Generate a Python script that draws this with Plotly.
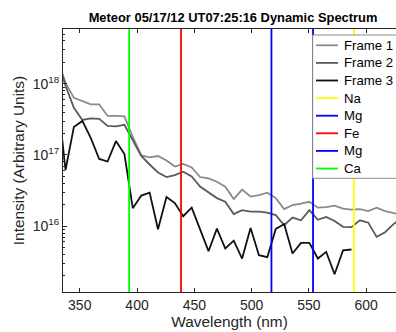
import plotly.graph_objects as go

# ---- data ----
wavelength = [330.3, 337.6, 344.9, 352.3, 359.6, 367.0, 374.3, 381.6, 389.0, 396.3,
              403.7, 411.0, 418.3, 425.7, 433.0, 440.3, 447.7, 455.0, 462.4, 469.7,
              477.0, 484.4, 491.7, 499.1, 506.4, 513.7, 521.1, 528.4, 535.7, 543.1,
              550.4, 557.8, 565.1, 572.4, 579.8, 587.1, 594.5, 601.8, 609.1, 616.5,
              623.8, 631.2]

frame1 = [2.3e18, 1.03e18, 6.35e17, 5.67e17, 5.14e17, 5.14e17, 3.54e17, 3.54e17, 3.49e17, 1.79e17,
          9.84e16, 9.28e16, 9.68e16, 8.37e16, 6.89e16, 7.47e16, 6.67e16, 4.90e16, 4.70e16, 4.21e16,
          3.58e16, 2.40e16, 3.27e16, 2.60e16, 2.73e16, 2.96e16, 2.48e16, 1.74e16, 1.98e16, 2.07e16,
          2.20e16, 1.82e16, 1.85e16, 1.94e16, 1.76e16, 1.71e16, 1.74e16, 1.63e16, 1.82e16, 1.63e16,
          1.52e16, 1.43e16]

frame2 = [2.3e18, 9.37e17, 4.59e17, 3.11e17, 3.27e17, 3.21e17, 2.56e17, 2.52e17, 2.65e17, 1.63e17,
          9.68e16, 7.35e16, 5.67e16, 4.90e16, 5.23e16, 5.82e16, 4.98e16, 3.60e16, 2.96e16, 2.48e16,
          2.21e16, 1.48e16, 1.68e16, 1.60e16, 1.60e16, 1.55e16, 1.43e16, 1.03e16, 1.32e16, 1.21e16,
          1.68e16, 1.23e16, 1.35e16, 1.18e16, 9.8e15, 9.7e15, 1.21e16, 1.12e16, 7.07e15, 8.23e15,
          1.07e16, 1.30e16]

frame3 = [7.47e17, 6.15e16, 2.48e17, 3.01e17, 1.74e17, 8.79e16, 8.10e16, 1.57e17, 1.03e17, 1.79e16,
          2.69e16, 2.96e16, 9.07e15, 2.56e16, 2.11e16, 1.38e16, 1.82e16, 8.93e15, 4.45e15, 9.22e15,
          4.85e15, 6.25e15, 3.51e15, 9.43e15, 3.91e15, 3.66e15, 9.13e15, 1.07e16, 4.13e15, 5.82e15,
          5.82e15, 3.51e15, 4.35e15, 2.11e15, 4.59e15, 4.70e15]

line_names = ["Na", "Mg", "Fe", "Mg", "Ca"]
line_wavelengths = [589.2, 553.6, 438.4, 517.3, 393.1]
line_colors = ["#ffff00", "#0000ff", "#ff0000", "#0000ff", "#00ff00"]

frame_names = ["Frame 1", "Frame 2", "Frame 3"]
frame_colors = ["#8a8a8a", "#5a5a5a", "#111111"]

y_tick_vals = [1e16, 1e17, 1e18]
y_tick_text = ["10<sup>16</sup>", "10<sup>17</sup>", "10<sup>18</sup>"]

x_range = [335.4, 626.0]
y_range_log = [15.075, 18.77]

FONT = "Liberation Sans, Arial, Helvetica, sans-serif"

# plot-area geometry in pixels (figure 396 x 332)
L, R, T, B = 63, 396, 29, 292


def px_x(px):
    return (px - L) / (R - L)


def px_y(py):
    return (B - py) / (B - T)


fig = go.Figure()
for name, ys, col in zip(frame_names, [frame1, frame2, frame3], frame_colors):
    fig.add_trace(go.Scatter(x=wavelength[:len(ys)], y=ys, mode="lines", name=name,
                             line=dict(color=col, width=1.8), showlegend=False))

y_lo, y_hi = 10 ** (y_range_log[0] - 0.5), 10 ** (y_range_log[1] + 0.5)
for name, wl, col in zip(line_names, line_wavelengths, line_colors):
    fig.add_trace(go.Scatter(x=[wl, wl], y=[y_lo, y_hi], mode="lines", name=name,
                             line=dict(color=col, width=1.8), showlegend=False))

# ---- legend box drawn by hand (MATLAB style, running off the right edge) ----
shapes = [dict(type="rect", xref="paper", yref="paper",
               x0=px_x(312.7), x1=px_x(420), y0=px_y(178.3), y1=px_y(35),
               fillcolor="white", line=dict(color="#8c8c8c", width=1), layer="above")]
annotations = []
legend_names = frame_names + line_names
legend_colors = frame_colors + line_colors
for i, (nm, col) in enumerate(zip(legend_names, legend_colors)):
    yc = 45.3 + 17.6 * i
    shapes.append(dict(type="line", xref="paper", yref="paper",
                       x0=px_x(316), x1=px_x(338), y0=px_y(yc), y1=px_y(yc),
                       line=dict(color=col, width=1.8), layer="above"))
    annotations.append(dict(text=nm, xref="paper", yref="paper", x=px_x(341.5), y=px_y(yc),
                            xanchor="left", yanchor="middle", showarrow=False,
                            font=dict(family=FONT, size=13.2, color="#000000")))

minor_vals = [m * 10 ** e for e in range(15, 19) for m in range(2, 10)]

fig.update_layout(
    width=396, height=332,
    margin=dict(l=L, r=0, t=T, b=332 - B, autoexpand=False),
    paper_bgcolor="white", plot_bgcolor="white",
    font=dict(family=FONT, size=14, color="#262626"),
    title=dict(text="<b>Meteor 05/17/12 UT07:25:16 Dynamic Spectrum</b>",
               x=233 / 396, xref="container", xanchor="center",
               y=1 - 17 / 332, yref="container", yanchor="middle",
               font=dict(family=FONT, size=12.9, color="#000000")),
    showlegend=False,
    shapes=shapes,
    annotations=annotations,
)

fig.update_xaxes(
    range=x_range, showgrid=False, zeroline=False, automargin=False,
    showline=True, linecolor="#262626", linewidth=1, mirror="ticks",
    ticks="inside", ticklen=4, tickcolor="#262626",
    tickmode="linear", tick0=350, dtick=50,
    tickfont=dict(size=14, color="#262626"),
    title=dict(text="Wavelength (nm)", font=dict(size=15.4, color="#262626"), standoff=2),
)
fig.update_yaxes(
    type="log", range=y_range_log, showgrid=False, zeroline=False, automargin=False,
    showline=True, linecolor="#262626", linewidth=1, mirror=False,
    ticks="inside", ticklen=4, tickcolor="#262626",
    tickmode="array", tickvals=y_tick_vals, ticktext=y_tick_text,
    tickfont=dict(size=14, color="#262626"),
    minor=dict(tickmode="array", tickvals=minor_vals, ticks="inside", ticklen=2,
               tickcolor="#262626", showgrid=False),
    title=dict(text="Intensity (Arbitrary Units)", font=dict(size=15.4, color="#262626"), standoff=4),
)

fig.write_html("out.html", config={"displayModeBar": False},
               post_script="document.body.style.margin='0';")
